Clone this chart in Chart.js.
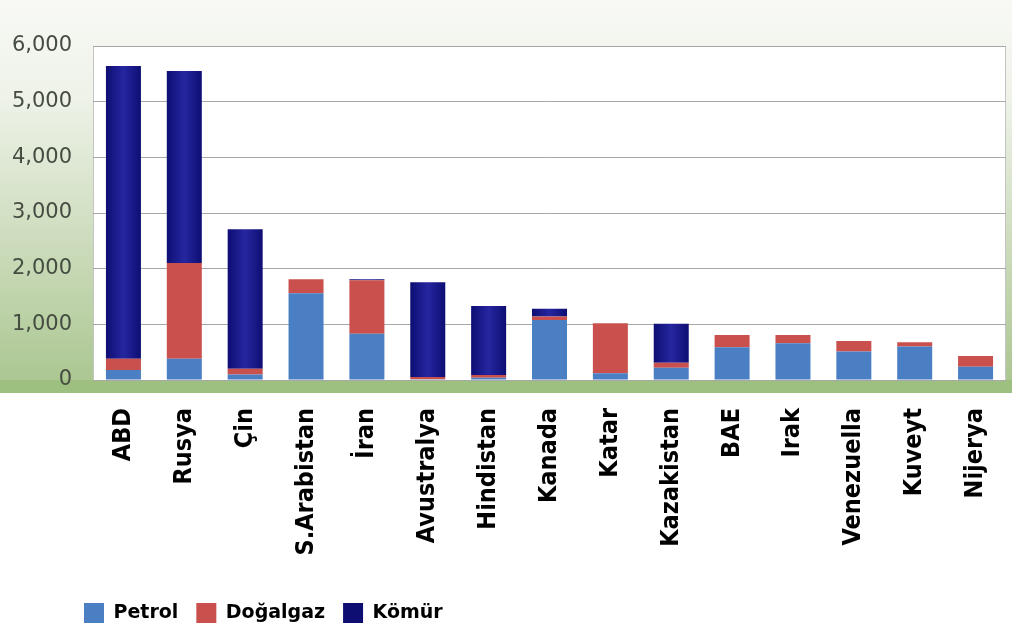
<!DOCTYPE html>
<html>
<head>
<meta charset="utf-8">
<script src="https://cdn.jsdelivr.net/npm/chart.js@4"></script>
<style>
  html, body { margin: 0; padding: 0; background: #fff; }
  #wrap { width: 1012px; height: 626px; }
</style>
</head>
<body>
<div id="wrap"><canvas id="myChart" width="1012" height="626"></canvas></div>
<script>
const countries = ['ABD', 'Rusya', 'Çin', 'S.Arabistan', 'İran', 'Avustralya', 'Hindistan',
  'Kanada', 'Katar', 'Kazakistan', 'BAE', 'Irak', 'Venezuella', 'Kuveyt', 'Nijerya'];
const petrol    = [180, 380, 100, 1560, 830, 15, 40, 1080, 120, 220, 590, 660, 510, 600, 240];
const dogalgaz  = [200, 1720, 100, 250, 960, 40, 50, 60, 900, 90, 220, 150, 190, 80, 190];
const komur     = [5260, 3450, 2510, 0, 20, 1700, 1240, 140, 0, 700, 0, 0, 0, 0, 0];
const yTicks = [0, 1000, 2000, 3000, 4000, 5000, 6000];

// dark navy bars with lighter middle, like the original
function komurFill(context) {
  const chart = context.chart;
  const x = chart.scales.x;
  if (!chart.chartArea || !x || context.dataIndex === undefined) return '#1b1b8c';
  const cx = x.getPixelForValue(context.dataIndex);
  const g = chart.ctx.createLinearGradient(cx - 18, 0, cx + 18, 0);
  g.addColorStop(0, '#0d0d72');
  g.addColorStop(0.5, '#2626a0');
  g.addColorStop(1, '#0d0d72');
  return g;
}

const background = {
  id: 'background',
  beforeDraw(chart) {
    const { ctx, chartArea: a } = chart;
    const floorBottom = a.bottom + 13;
    ctx.save();
    const g = ctx.createLinearGradient(0, 0, 0, floorBottom);
    g.addColorStop(0, '#f8f9f5');
    g.addColorStop(0.25, '#eef2e8');
    g.addColorStop(1, '#a9c58e');
    ctx.fillStyle = g;
    ctx.fillRect(0, 0, chart.width, floorBottom);
    ctx.fillStyle = '#ffffff';
    ctx.fillRect(a.left, a.top, a.right - a.left, a.bottom - a.top);
    ctx.strokeStyle = '#c4c4c4';
    ctx.lineWidth = 1;
    ctx.strokeRect(a.left + 0.5, a.top + 0.5, a.right - a.left - 1, a.bottom - a.top);
    ctx.fillStyle = '#9dbf80';
    ctx.fillRect(0, a.bottom, chart.width, 13);
    ctx.restore();
  }
};

// move the legend to the left under the y axis labels
const legendShift = {
  id: 'legendShift',
  afterLayout(chart) {
    const lg = chart.legend;
    lg.left += 66;
    lg.top += 7;
    lg.bottom += 7;
  }
};

const ctx = document.getElementById('myChart');
new Chart(ctx, {
  type: 'bar',
  data: {
    labels: countries,
    datasets: [
      { label: 'Petrol', data: petrol, backgroundColor: '#4a7fc4' },
      { label: 'Doğalgaz', data: dogalgaz, backgroundColor: '#c9504c' },
      { label: 'Kömür', data: komur, backgroundColor: komurFill },
    ],
  },
  options: {
    responsive: false,
    animation: false,
    layout: { padding: { top: 46, left: 0, right: 6, bottom: 0 } },
    datasets: { bar: { categoryPercentage: 1, barPercentage: 0.575 } },
    scales: {
      x: {
        stacked: true,
        grid: { display: false, drawTicks: false },
        border: { display: false },
        ticks: {
          autoSkip: false,
          minRotation: 90,
          maxRotation: 90,
          padding: 28,
          color: '#000',
          font: { family: "'Liberation Sans Narrow', 'DejaVu Sans Condensed', sans-serif", size: 25, weight: 'bold' },
        },
        afterFit(scale) {
          scale.height = 626 - 380 - scale.chart.legend.height;
          scale.paddingLeft = 0;
          scale.paddingRight = 0;
        },
      },
      y: {
        stacked: true,
        min: 0,
        max: 6000,
        afterBuildTicks(scale) {
          scale.ticks = yTicks.map((v) => ({ value: v }));
        },
        afterFit(scale) {
          scale.width = 93;
          scale.paddingTop = 0;
          scale.paddingBottom = 0;
        },
        grid: { color: '#a8a8a8', drawTicks: false },
        border: { display: false },
        ticks: {
          padding: 21,
          color: '#454d42',
          font: { family: "'DejaVu Sans', sans-serif", size: 21 },
          callback: (v) => v.toLocaleString('en-US'),
        },
      },
    },
    plugins: {
      legend: {
        position: 'bottom',
        align: 'start',
        labels: {
          boxWidth: 20,
          boxHeight: 20,
          padding: 18,
          color: '#000',
          font: { family: "'DejaVu Sans', sans-serif", size: 19, weight: 'bold' },
        },
      },
      tooltip: { enabled: false },
    },
  },
  plugins: [background, legendShift],
});
</script>
</body>
</html>
